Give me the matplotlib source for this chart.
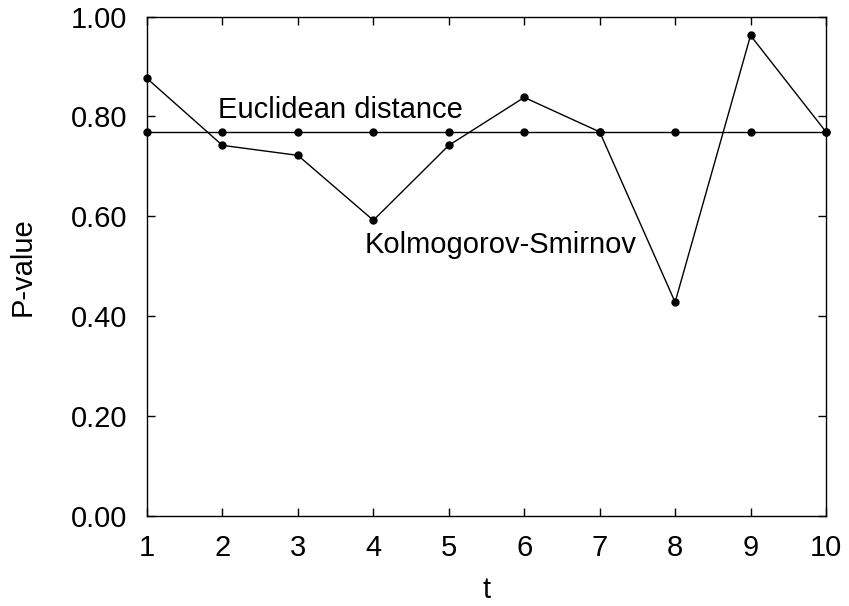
import matplotlib
matplotlib.use("Agg")
import matplotlib.pyplot as plt

t = [1, 2, 3, 4, 5, 6, 7, 8, 9, 10]
euclidean = [0.769] * 10
ks = [0.876, 0.742, 0.722, 0.592, 0.742, 0.838, 0.769, 0.428, 0.962, 0.769]
yticks = [0.0, 0.2, 0.4, 0.6, 0.8, 1.0]
ytick_labels = ["0.00", "0.20", "0.40", "0.60", "0.80", "1.00"]

plt.rcParams['font.family'] = ['Liberation Sans', 'DejaVu Sans']
FS = 21

fig = plt.figure(figsize=(8.49, 6.06), dpi=100)
ax = fig.add_axes([147/849, 1 - 516/606, (826-147)/849, (516-16.5)/606])

ax.plot(t, euclidean, color='black', lw=1.0, marker='o', ms=5, clip_on=False)
ax.plot(t, ks, color='black', lw=1.0, marker='o', ms=5, clip_on=False)

ax.text(1.94, 0.797, "Euclidean distance", fontsize=FS, ha='left', va='baseline')
ax.text(3.89, 0.527, "Kolmogorov-Smirnov", fontsize=FS, ha='left', va='baseline')

ax.set_xlim(1, 10)
ax.set_ylim(0, 1)
ax.set_xticks(t)
ax.set_xticklabels([str(v) for v in t])
ax.set_yticks(yticks)
ax.set_yticklabels(ytick_labels)
ax.tick_params(direction='in', length=6, width=1, top=True, right=True, labelsize=FS)
ax.tick_params(axis='x', pad=13)
ax.tick_params(axis='y', pad=14)
ax.set_xlabel("t", fontsize=FS, labelpad=10)
ax.set_ylabel("P-value", fontsize=FS, labelpad=25)
for s in ax.spines.values():
    s.set_linewidth(1.0)

fig.savefig("out.png", dpi=100)
